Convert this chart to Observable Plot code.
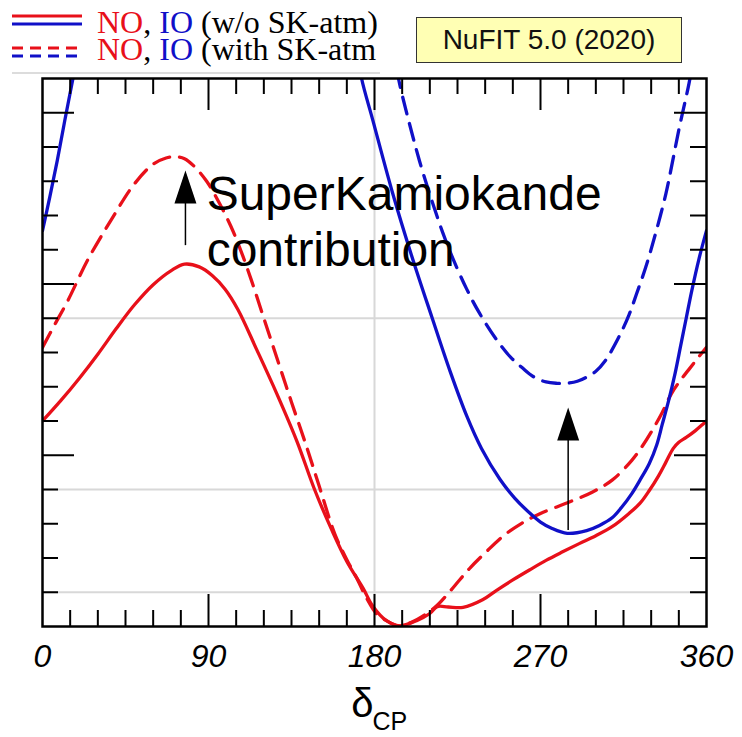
<!DOCTYPE html>
<html><head><meta charset="utf-8">
<script src="https://cdn.jsdelivr.net/npm/d3@7"></script>
<script src="https://cdn.jsdelivr.net/npm/@observablehq/plot@0.6"></script>
<style>
body{margin:0;background:#fff;}
#wrap{position:relative;width:742px;height:737px;overflow:hidden;}
#legend{position:relative;width:742px;height:75px;}
.lt{position:absolute;left:97px;height:27px;font-family:"Liberation Serif",serif;font-size:32px;line-height:27px;white-space:nowrap;color:#000;}
.lt span{display:inline-block;height:27px;line-height:27px;vertical-align:top;}
.r{color:#e8101a}.b{color:#1010c8}.k{color:#000}
#sw{position:absolute;left:0;top:0;}
#hr{position:absolute;left:12px;top:72px;width:368px;border-top:2px solid #dcdcdc;}
#nufit{position:absolute;left:416px;top:17px;width:266px;height:46px;box-sizing:border-box;border:1.5px solid #333;background:#ffffb4;font-family:"Liberation Sans",sans-serif;font-size:28px;line-height:43px;text-align:center;color:#111;}
</style></head><body>
<div id="wrap">
  <div id="legend">
    <svg id="sw" width="90" height="75">
      <line x1="12" x2="82" y1="16" y2="16" stroke="#e8101a" stroke-width="3"/>
      <line x1="12" x2="82" y1="24" y2="24" stroke="#1010c8" stroke-width="3"/>
      <line x1="12" x2="82" y1="48" y2="48" stroke="#e8101a" stroke-width="3" stroke-dasharray="11,7"/>
      <line x1="12" x2="82" y1="56" y2="56" stroke="#1010c8" stroke-width="3" stroke-dasharray="11,7"/>
    </svg>
    <div class="lt" style="top:9px"><span class="r">NO</span><span class="k">,&nbsp;</span><span class="b">IO</span><span class="k">&nbsp;(w/o SK-atm)</span></div>
    <div class="lt" style="top:36px"><span class="r">NO</span><span class="k">,&nbsp;</span><span class="b">IO</span><span class="k">&nbsp;(with SK-atm</span></div>
    <div id="hr"></div>
    <div id="nufit">NuFIT 5.0 (2020)</div>
  </div>
  <div id="chart"></div>
</div>
<script>
// δCP in degrees, Δχ² values
const redSolid = [[0,6.0],[10,6.6],[20,7.25],[30,7.95],[40,8.7],[50,9.4],[60,9.98],[70,10.4],[77,10.58],[85,10.5],[92,10.25],[99,9.85],[106,9.25],[116,8.1],[127,6.8],[138,5.4],[147.5,4.0],[157,2.8],[165,1.9],[174,1.1],[179,0.6],[186.5,0.17],[193.5,0.02],[202.8,0.17],[210,0.38],[214,0.58],[220,0.57],[228,0.56],[238.6,0.78],[246,1.05],[255,1.36],[264,1.65],[273,1.93],[282,2.18],[291,2.42],[300,2.65],[309,2.92],[318,3.3],[324,3.6],[329,3.97],[334,4.4],[338,4.8],[342,5.2],[345,5.38],[349,5.52],[354,5.72],[358.5,5.93],[360,6.0]];
const redDashed = [[0,8.15],[7,8.85],[13.6,9.5],[24.5,10.7],[37,11.85],[49.5,12.9],[60,13.5],[67,13.68],[72,13.72],[77,13.66],[82,13.45],[89,13.0],[96,12.35],[102,11.7],[107,11.05],[113,10.15],[120,9.0],[128.8,7.56],[135,6.55],[143.3,5.23],[150,4.1],[158.5,2.7],[165,1.95],[170,1.45],[175.5,0.85],[181,0.38],[186.5,0.17],[193,0.02],[200,0.12],[207,0.33],[214,0.62],[220,0.97],[226,1.35],[232,1.72],[240,2.15],[250,2.65],[260,3.02],[270,3.3],[285,3.62],[298,3.92],[309,4.28],[319.5,4.85],[325,5.25],[330.5,5.72],[336,6.25],[341,6.8],[346,7.2],[350.4,7.5],[355,7.82],[360,8.15]];
const blueSolidLeft = [[0,11.56],[4,12.55],[8,13.6],[12,14.75],[16.3,15.94],[20,17.0]];
const blueSolidRight = [[170,17.0],[173,16.0],[179,14.8],[190,12.62],[200,10.85],[211,9.05],[221,7.45],[230,6.15],[238,5.2],[248,4.3],[256,3.75],[264,3.32],[270,3.05],[276,2.87],[284.5,2.72],[295,2.8],[302,2.95],[309,3.18],[314,3.48],[319.5,3.88],[324,4.28],[329,4.76],[333,5.3],[336,5.9],[339.5,6.6],[343,7.4],[346,8.2],[349,9.0],[352,9.8],[356,10.75],[360,11.56]];
const blueDashed = [[190,17.0],[193,16.0],[200.8,14.3],[206,13.3],[211.6,12.35],[217,11.5],[222.3,10.77],[230,9.85],[237,9.14],[247.7,8.26],[254,7.85],[260,7.56],[266,7.3],[273,7.14],[279,7.1],[284,7.1],[290,7.16],[294.6,7.27],[300,7.45],[305,7.75],[312,8.4],[318,9.1],[322,9.7],[327,10.48],[332,11.4],[338,12.64],[341.5,13.55],[345,14.5],[350.5,15.85],[353,16.6]];

const xTickLabels = [0, 90, 180, 270, 360];
const xMajorTicks = [90, 180, 270];
const xMinorTicks = [15,30,45,60,75,105,120,135,150,165,195,210,225,240,255,285,300,315,330,345];
const yMajorTicks = [5, 10, 15];
const yMinorTicks = [1,2,3,4,6,7,8,9,11,12,13,14];
const hGrid = [1, 4, 9];
const vGrid = [180];

const annotation = [{x: 89, y: 10.54, text: "SuperKamiokande\ncontribution"}];
const arrowShafts = [{x: 77.5, y1: 11.12, y2: 12.4}, {x: 285, y1: 2.8, y2: 5.45}];
const arrowHeads = [{x: 77.5, y: 12.83}, {x: 285, y: 5.91}];
const axisTitle = [{x: 180}];

const RED = "#e8101a", BLUE = "#1010c8";
const W = 742, H = 662, mT = 3, mB = 111, mL = 42, mR = 36;
const innerH = H - mT - mB, innerW = W - mL - mR;
const MINOR = 16, MAJOR = 32;
const headSymbol = {draw(ctx, size) { const r = Math.sqrt(size / Math.PI); ctx.moveTo(0, -1.5 * r); ctx.lineTo(r, 1.5 * r); ctx.lineTo(-r, 1.5 * r); ctx.closePath(); }};
const font = "Liberation Sans, Arial, sans-serif";
const lineOpts = (color, dashed) => ({x: d => d[0], y: d => d[1], stroke: color, strokeWidth: 3.3, curve: "catmull-rom", clip: true, strokeDasharray: dashed ? "17,10" : null});

const chart = Plot.plot({
  width: W, height: H,
  marginTop: mT, marginBottom: mB, marginLeft: mL, marginRight: mR,
  x: {domain: [0, 360]},
  y: {domain: [0, 16], axis: null},
  style: {fontFamily: font, background: "white"},
  marks: [
    Plot.ruleY(hGrid, {y: d => d, stroke: "#d8d8d8", strokeWidth: 2}),
    Plot.ruleX(vGrid, {x: d => d, stroke: "#d8d8d8", strokeWidth: 2}),
    Plot.line(redSolid, lineOpts(RED, false)),
    Plot.line(redDashed, lineOpts(RED, true)),
    Plot.line(blueSolidLeft, lineOpts(BLUE, false)),
    Plot.line(blueSolidRight, lineOpts(BLUE, false)),
    Plot.line(blueDashed, lineOpts(BLUE, true)),
    Plot.text(annotation, {x: "x", y: "y", text: "text", textAnchor: "start", lineAnchor: "bottom", lineHeight: 1.15, fontSize: 48, fontFamily: font, fill: "black"}),
    Plot.ruleX(arrowShafts, {x: "x", y1: "y1", y2: "y2", stroke: "black", strokeWidth: 1.5}),
    Plot.dot(arrowHeads, {x: "x", y: "y", r: 11, symbol: headSymbol, fill: "black", stroke: null}),
    // inward ticks, bottom/top
    Plot.ruleX(xMinorTicks, {x: d => d, insetTop: innerH - MINOR, stroke: "black", strokeWidth: 2}),
    Plot.ruleX(xMajorTicks, {x: d => d, insetTop: innerH - MAJOR, stroke: "black", strokeWidth: 2}),
    Plot.ruleX(xMinorTicks, {x: d => d, insetBottom: innerH - MINOR, stroke: "black", strokeWidth: 2}),
    Plot.ruleX(xMajorTicks, {x: d => d, insetBottom: innerH - MAJOR, stroke: "black", strokeWidth: 2}),
    // inward ticks, left/right
    Plot.ruleY(yMinorTicks, {y: d => d, insetRight: innerW - MINOR, stroke: "black", strokeWidth: 2}),
    Plot.ruleY(yMajorTicks, {y: d => d, insetRight: innerW - MAJOR, stroke: "black", strokeWidth: 2}),
    Plot.ruleY(yMinorTicks, {y: d => d, insetLeft: innerW - MINOR, stroke: "black", strokeWidth: 2}),
    Plot.ruleY(yMajorTicks, {y: d => d, insetLeft: innerW - MAJOR, stroke: "black", strokeWidth: 2}),
    Plot.frame({stroke: "black", strokeWidth: 2.5}),
    Plot.axisX(xTickLabels, {tickSize: 0, tickPadding: 18, fontSize: 32, fontStyle: "italic", fontFamily: font, label: null, fill: "black"}),
    Plot.text(axisTitle, {x: "x", frameAnchor: "bottom", text: () => "δ", textAnchor: "end", dx: -1, dy: 90, lineAnchor: "bottom", fontSize: 40, fontFamily: font, fill: "black"}),
    Plot.text(axisTitle, {x: "x", frameAnchor: "bottom", text: () => "CP", textAnchor: "start", dx: -2, dy: 103, lineAnchor: "bottom", fontSize: 25, fontFamily: font, fill: "black"})
  ]
});
document.getElementById("chart").appendChild(chart);
</script>
</body></html>
